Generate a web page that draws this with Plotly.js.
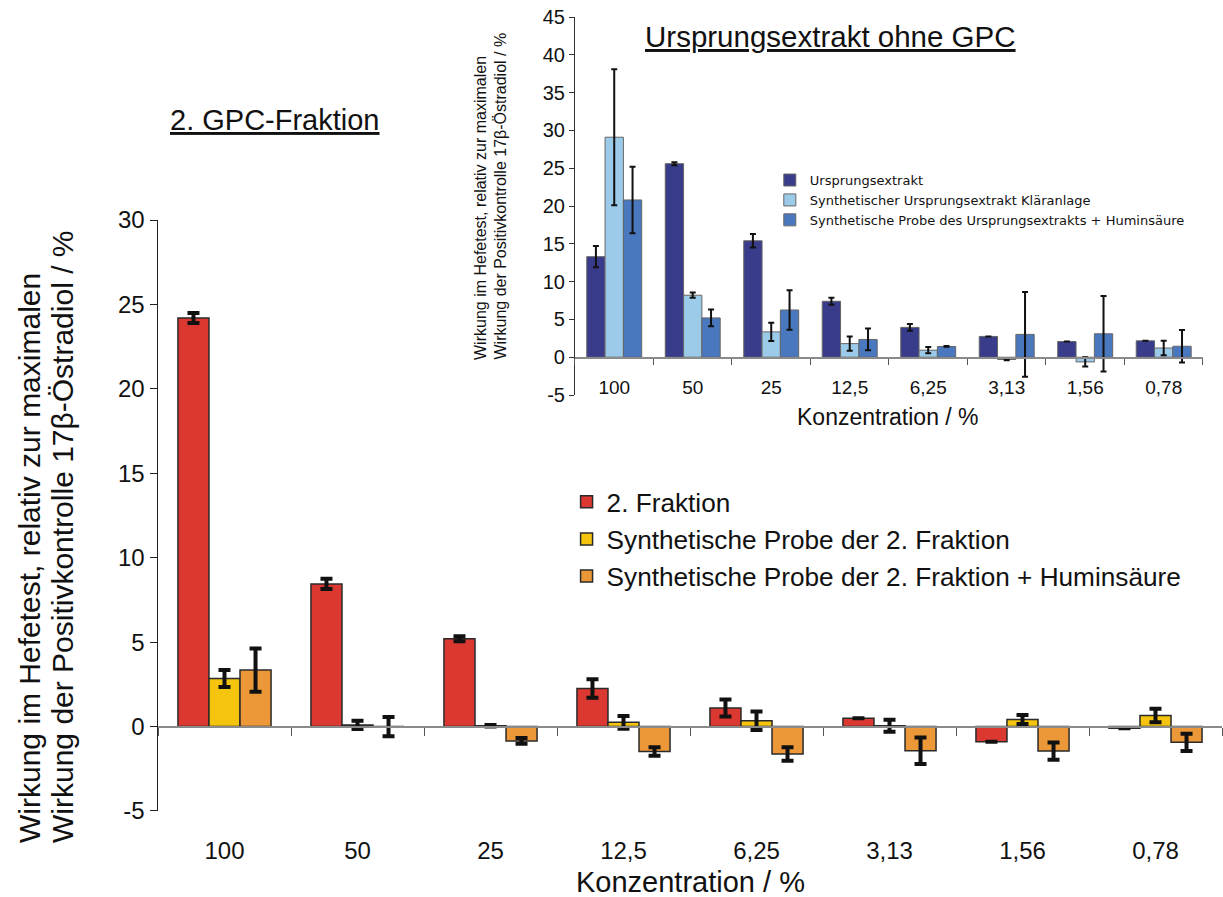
<!DOCTYPE html>
<html>
<head>
<meta charset="utf-8">
<script src="https://cdn.plot.ly/plotly-3.0.1.min.js"></script>
<style>html,body{margin:0;padding:0;background:#fff;}#chart{width:1223px;height:897px;}</style>
</head>
<body>
<div id="chart"></div>
<script>
// Categories (concentration %)
const categories = ['100', '50', '25', '12,5', '6,25', '3,13', '1,56', '0,78'];

// Main chart: 2. GPC-Fraktion
const fraktion2 = [24.2, 8.45, 5.2, 2.25, 1.1, 0.5, -0.9, -0.1];
const fraktion2Err = [0.3, 0.3, 0.15, 0.55, 0.5, null, null, null];
const synth2 = [2.85, 0.1, 0.05, 0.25, 0.35, 0.05, 0.42, 0.65];
const synth2Err = [0.5, 0.25, 0.05, 0.38, 0.55, 0.36, 0.26, 0.4];
const synth2Hum = [3.35, 0.0, -0.85, -1.48, -1.62, -1.43, -1.45, -0.93];
const synth2HumErr = [1.28, 0.57, 0.17, 0.25, 0.4, 0.78, 0.51, 0.51];

// Inset: Ursprungsextrakt ohne GPC
const urspr = [13.3, 25.6, 15.4, 7.4, 3.95, 2.75, 2.08, 2.17];
const ursprErr = [1.4, 0.2, 0.9, 0.45, 0.45, null, null, null];
const synthKA = [29.1, 8.2, 3.35, 1.8, 0.93, -0.3, -0.62, 1.22];
const synthKAErr = [9.0, 0.35, 1.2, 0.95, 0.42, 0.1, 0.62, 0.95];
const synthUHum = [20.8, 5.2, 6.25, 2.35, 1.42, 3.02, 3.1, 1.45];
const synthUHumErr = [4.4, 1.1, 2.6, 1.44, 0.05, 5.6, 5.0, 2.15];

// Y tick labels
const mainYTicks = [-5, 0, 5, 10, 15, 20, 25, 30];
const mainYTickText = ['-5', '0', '5', '10', '15', '20', '25', '30'];
const insetYTicks = [-5, 0, 5, 10, 15, 20, 25, 30, 35, 40, 45];
const insetYTickText = ['-5', '0', '5', '10', '15', '20', '25', '30', '35', '40', '45'];

const seriesNamesMain = ['2. Fraktion', 'Synthetische Probe der 2. Fraktion', 'Synthetische Probe der 2. Fraktion + Huminsäure'];
const seriesNamesInset = ['Ursprungsextrakt', 'Synthetischer Ursprungsextrakt Kläranlage', 'Synthetische Probe des Ursprungsextrakts + Huminsäure'];
const yTitleLines = ['Wirkung im Hefetest, relativ zur maximalen', 'Wirkung der Positivkontrolle 17β-Östradiol / %'];

const FONT = 'Liberation Sans, Arial, sans-serif';
const mainColors = ['#dc3832', '#f4c40f', '#ec9838'];
const insetColors = ['#383c8a', '#9ccbea', '#4a78bf'];

const idx = categories.map((c, i) => i);
const noVals = categories.map(() => null);

function mainBar(name, y, err, color, g) {
  return {
    type: 'bar', name: name, x: categories, y: y, xaxis: 'x', yaxis: 'y',
    legend: 'legend', legendgroup: g,
    marker: {color: color, line: {color: '#2a2a2a', width: 1.5}},
    error_y: {type: 'data', array: err, visible: true, color: '#111', thickness: 4, width: 6}
  };
}
function insetBar(name, y, err, color) {
  return {
    type: 'bar', name: name, x: categories, y: y, xaxis: 'x2', yaxis: 'y2',
    legend: 'legend2',
    marker: {color: color, line: {color: '#666', width: 1}},
    error_y: {type: 'data', array: err, visible: true, color: '#111', thickness: 2, width: 3}
  };
}
// invisible helpers so that the label-only category axes get drawn
function labelHelper(xa, ya) {
  return {type: 'scatter', mode: 'markers', x: idx, y: noVals, xaxis: xa, yaxis: ya,
          showlegend: false, hoverinfo: 'skip', marker: {opacity: 0}};
}

const data = [
  mainBar(seriesNamesMain[0], fraktion2, fraktion2Err, mainColors[0], 'm1'),
  mainBar(seriesNamesMain[1], synth2, synth2Err, mainColors[1], 'm2'),
  mainBar(seriesNamesMain[2], synth2Hum, synth2HumErr, mainColors[2], 'm3'),
  insetBar(seriesNamesInset[0], urspr, ursprErr, insetColors[0]),
  insetBar(seriesNamesInset[1], synthKA, synthKAErr, insetColors[1]),
  insetBar(seriesNamesInset[2], synthUHum, synthUHumErr, insetColors[2]),
  labelHelper('x3', 'y'),
  labelHelper('x4', 'y2')
];

const mainTop = 0.7443;
const mainRange = [-5, 30];
const insetBottom = 0.5239;
const insetRange = [-5, 45];

function ann(text, x, y, size, extra) {
  return Object.assign({text: text, xref: 'paper', yref: 'paper', x: x, y: y,
    xanchor: 'center', yanchor: 'middle', showarrow: false,
    font: {size: size, family: FONT, color: '#111'}}, extra || {});
}

const layout = {
  width: 1223, height: 897,
  margin: {l: 158, r: 1, t: 17, b: 86, pad: 0},
  paper_bgcolor: '#fff', plot_bgcolor: 'rgba(0,0,0,0)',
  font: {family: FONT, color: '#111'},
  barmode: 'group', bargap: 0.3, bargroupgap: 0,
  showlegend: true, hovermode: false,
  xaxis: {
    type: 'category', domain: [0, 1], range: [-0.5, 7.5],
    anchor: 'free', position: mainTop * (0 - mainRange[0]) / (mainRange[1] - mainRange[0]),
    showline: true, linecolor: '#8a8a8a', linewidth: 2,
    ticks: 'outside', tickson: 'boundaries', ticklen: 8, tickcolor: '#555', tickwidth: 1,
    showticklabels: false, showgrid: false, zeroline: false
  },
  xaxis3: {
    overlaying: 'x', anchor: 'y', type: 'linear', range: [-0.5, 7.5],
    tickvals: idx, ticktext: categories, ticks: '', showline: false,
    showgrid: false, zeroline: false, tickfont: {size: 24, family: FONT, color: '#111'},
    ticklabelstandoff: 23
  },
  yaxis: {
    domain: [0, mainTop], range: mainRange, anchor: 'x',
    tickvals: mainYTicks, ticktext: mainYTickText,
    showline: true, linecolor: '#222', linewidth: 1.5,
    ticks: 'outside', ticklen: 7, tickcolor: '#222',
    showgrid: false, zeroline: false,
    tickfont: {size: 24, family: FONT, color: '#111'}
  },
  xaxis2: {
    type: 'category', domain: [0.3919, 0.9821], range: [-0.5, 7.5],
    anchor: 'free', position: insetBottom + (1 - insetBottom) * (0 - insetRange[0]) / (insetRange[1] - insetRange[0]),
    showline: true, linecolor: '#8a8a8a', linewidth: 1.5,
    ticks: 'outside', tickson: 'boundaries', ticklen: 6, tickcolor: '#555',
    showticklabels: false, showgrid: false, zeroline: false
  },
  xaxis4: {
    overlaying: 'x2', anchor: 'free', position: 0.551, type: 'linear', range: [-0.5, 7.5],
    tickvals: idx, ticktext: categories, ticks: '', showline: false,
    showgrid: false, zeroline: false, tickfont: {size: 19, family: FONT, color: '#111'}
  },
  yaxis2: {
    domain: [insetBottom, 1], range: insetRange, anchor: 'x2',
    tickvals: insetYTicks, ticktext: insetYTickText,
    showline: true, linecolor: '#333', linewidth: 1,
    ticks: 'outside', ticklen: 5, tickcolor: '#333',
    showgrid: false, zeroline: false,
    tickfont: {size: 20, family: FONT, color: '#111'}
  },
  legend: {
    x: 0.384, y: 0.419, xanchor: 'left', yanchor: 'top',
    font: {size: 26.2, family: FONT, color: '#111'},
    bgcolor: 'rgba(0,0,0,0)', tracegroupgap: 6, traceorder: 'normal'
  },
  legend2: {
    x: 0.575, y: 0.8135, xanchor: 'left', yanchor: 'top',
    font: {size: 13, family: 'DejaVu Sans, Liberation Sans, sans-serif', color: '#111'},
    bgcolor: 'rgba(0,0,0,0)', traceorder: 'normal'
  },
  annotations: [
    ann('<u>2. GPC-Fraktion</u>', 0.11, 0.870, 29),
    ann('<u>Ursprungsextrakt ohne GPC</u>', 0.6316, 0.975, 29.5),
    ann('Konzentration / %', 0.5, -0.0894, 29),
    ann('Konzentration / %', 0.686, 0.4965, 23),
    ann(yTitleLines[0], (30 - 158) / 1064, -0.0428, 30, {textangle: -90, yanchor: 'bottom'}),
    ann(yTitleLines[1], (63 - 158) / 1064, -0.0428, 30, {textangle: -90, yanchor: 'bottom'}),
    ann(yTitleLines[0], (481 - 158) / 1064, 0.5655, 16, {textangle: -90, yanchor: 'bottom'}),
    ann(yTitleLines[1], (500 - 158) / 1064, 0.5655, 16, {textangle: -90, yanchor: 'bottom'})
  ]
};

Plotly.newPlot('chart', data, layout, {staticPlot: true, displayModeBar: false});
</script>
</body>
</html>
